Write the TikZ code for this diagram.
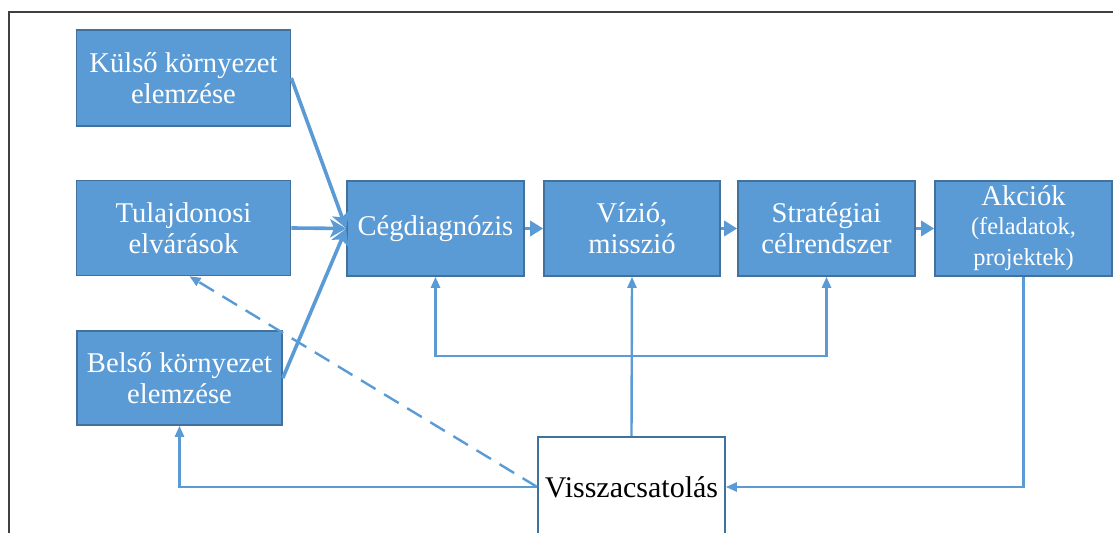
\documentclass[tikz,border=0pt]{standalone}
\usepackage{fontspec}
\setmainfont{Liberation Serif}
\definecolor{boxblue}{RGB}{91, 155, 213}
\definecolor{edgeblue}{RGB}{65, 113, 156}
\definecolor{framegray}{RGB}{64, 64, 64}
\usetikzlibrary{arrows.meta, calc}

\tikzset{
  bluebox/.style={draw=edgeblue, line width=0.8pt, fill=boxblue, text=white, align=center,
    inner sep=0pt, font=\fontsize{14.3}{15.5}\selectfont},
  inline/.style={boxblue, line width=1.8pt, -{Stealth[length=8pt, width=9pt, inset=2pt]}},
  chain/.style={boxblue, line width=1.6pt, -{Triangle[length=6.5pt, width=7.5pt]}},
  feedback/.style={boxblue, line width=1.2pt, -{Triangle[length=5.5pt, width=4.5pt]}},
}

\begin{document}
\begin{tikzpicture}[x=0.5pt, y=-0.5pt]
  \useasboundingbox (0, 0) rectangle (1113, 533);
  \clip (0, 0) rectangle (1113, 533);

  % frame
  \draw[framegray, line width=0.8pt] (9, 540) -- (9, 12) -- (1120, 12);

  % input boxes
  \node[bluebox, minimum width=107pt, minimum height=48pt] (kulso) at (183.5, 78) {Külső környezet\\elemzése};
  \node[bluebox, minimum width=107pt, minimum height=47.5pt] (tulaj) at (183.5, 228) {Tulajdonosi\\elvárások};
  \node[bluebox, minimum width=102.5pt, minimum height=47pt] (belso) at (179.5, 378) {Belső környezet\\elemzése};

  % main chain
  \node[bluebox, minimum width=88.5pt, minimum height=47.5pt] (ceg) at (435.5, 228.5) {Cégdiagnózis};
  \node[bluebox, minimum width=88pt, minimum height=47.5pt] (vizio) at (632, 228.5) {Vízió,\\misszió};
  \node[bluebox, minimum width=88.5pt, minimum height=47.5pt] (strat) at (826.5, 228.5) {Stratégiai\\célrendszer};
  \node[bluebox, minimum width=88.5pt, minimum height=47.5pt] (akciok) at (1023.5, 228.5)
    {Akciók\\[-1pt]{\fontsize{12.2}{14}\selectfont (feladatok,}\\{\fontsize{12.2}{14}\selectfont projektek)}};

  % feedback box
  \node[draw=edgeblue, line width=0.8pt, fill=white, minimum width=93.5pt, minimum height=50pt,
    font=\fontsize{15}{16}\selectfont] (vissza) at (631.5, 487) {Visszacsatolás};

  \draw[inline] (kulso.east) -- (ceg.west);
  \draw[inline] (tulaj.east) -- (ceg.west);
  \draw[inline] (belso.east) -- (ceg.west);

  \draw[chain] (ceg.east) -- (vizio.west);
  \draw[chain] (vizio.east) -- (strat.west);
  \draw[chain] (strat.east) -- (akciok.west);

  % feedback lines
  \coordinate (elag) at (632, 356);
  \draw[feedback] (vissza.north) -- (vizio.south);
  \draw[feedback] (elag) -| (ceg.south);
  \draw[feedback] (elag) -| (strat.south);
  \draw[feedback] (akciok.south) |- (vissza.east);
  \draw[feedback] (vissza.west) -| (belso.south);
  \draw[feedback, dash pattern=on 8.5pt off 5pt] (vissza.west) -- ([xshift=3pt]tulaj.south);
\end{tikzpicture}
\end{document}
